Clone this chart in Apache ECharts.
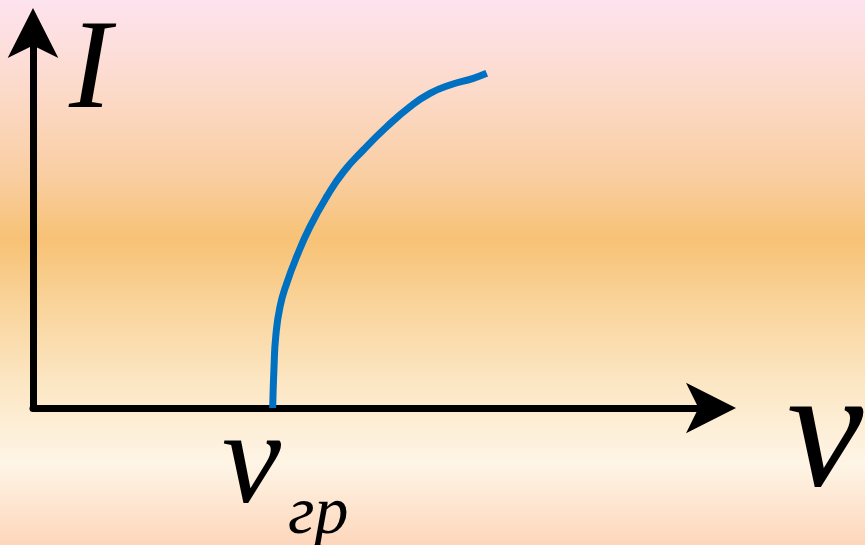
<!DOCTYPE html>
<html>
<head>
<meta charset="utf-8">
<script src="https://cdn.jsdelivr.net/npm/echarts@6/dist/echarts.min.js"></script>
<style>html,body{margin:0;padding:0;}#c{width:865px;height:545px;}</style>
</head>
<body>
<div id="c"></div>
<script>
// Frequency (ν) values in arbitrary units, axis 0..100
var nuValues = [35.35, 35.55, 35.8, 36.43, 37.42, 38.89, 40.86, 43.32, 45.77, 48.72, 52.17, 55.6, 58.55, 61.5, 64.94, 66.92];
// Photocurrent (I) values in arbitrary units, axis 0..100
var iValues  = [0,     11.0,  19.0, 27.0,  33.25, 40.35, 48.35, 56.35, 62.93, 68.8,  75.0,  80.35, 83.92, 86.13, 87.92, 89.25];
var yAxisLabel = 'I';
var xAxisLabel = 'ν';
var thresholdLabel = 'ν';
var thresholdSub = 'гр';

var chart = echarts.init(document.getElementById('c'), null, {renderer: 'canvas'});
var serif = '"Liberation Serif", "DejaVu Serif", serif';
var data = nuValues.map(function (v, i) { return [v, iValues[i]]; });

chart.setOption({
  backgroundColor: {
    type: 'linear', x: 0, y: 0, x2: 0, y2: 1,
    colorStops: [
      {offset: 0.00, color: '#fde3ef'},
      {offset: 0.18, color: '#fcd9c6'},
      {offset: 0.32, color: '#f9cea2'},
      {offset: 0.44, color: '#f7c275'},
      {offset: 0.56, color: '#f9d49b'},
      {offset: 0.70, color: '#fce6c3'},
      {offset: 0.85, color: '#fef5e6'},
      {offset: 1.00, color: '#fdd6bb'}
    ]
  },
  animation: false,
  grid: {left: 33, right: 154, top: 33, bottom: 137},
  xAxis: {
    type: 'value', min: 0, max: 100,
    axisLine: {show: true, symbol: ['none', 'arrow'], symbolSize: [38, 50], symbolOffset: [0, 25],
      lineStyle: {color: '#000', width: 7}},
    axisTick: {show: false}, axisLabel: {show: false}, splitLine: {show: false}
  },
  yAxis: {
    type: 'value', min: 0, max: 100,
    axisLine: {show: true, symbol: ['none', 'arrow'], symbolSize: [38, 50], symbolOffset: [0, 25],
      lineStyle: {color: '#000', width: 7}},
    axisTick: {show: false}, axisLabel: {show: false}, splitLine: {show: false}
  },
  series: [{
    type: 'line', data: data, smooth: 0.5, showSymbol: false,
    lineStyle: {color: '#0070c0', width: 7}, z: 1
  }],
  graphic: [
    {type: 'text', left: 69, top: 10, style: {text: yAxisLabel, font: 'italic 127px ' + serif, fill: '#000'}},
    {type: 'text', left: 787, top: 354, style: {text: xAxisLabel, font: 'italic 172px ' + serif, fill: '#000'}},
    {type: 'text', left: 222, top: 401, style: {text: thresholdLabel, font: 'italic 133px ' + serif, fill: '#000'}},
    {type: 'text', left: 288, top: 481, style: {text: thresholdSub, font: 'italic 68px ' + serif, fill: '#000'}}
  ]
});
</script>
</body>
</html>
